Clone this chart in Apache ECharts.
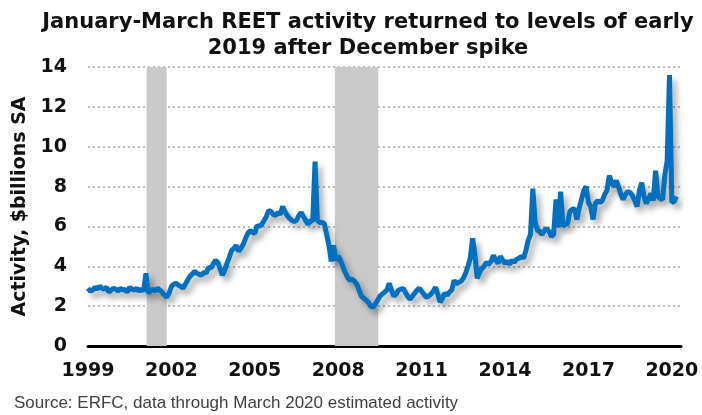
<!DOCTYPE html>
<html>
<head>
<meta charset="utf-8">
<script src="https://cdn.jsdelivr.net/npm/echarts@6/dist/echarts.min.js"></script>
<style>
  html, body { margin: 0; padding: 0; background: #fff; }
  #chart { width: 702px; height: 415px; }
</style>
</head>
<body>
<div id="chart"></div>
<script>
// monthly REET activity, $billions SA, Jan 1999 - Mar 2020
const startYear = 1999;
const activity = [
  2.9, 2.75, 2.8, 2.95, 2.85, 3.0, 2.9, 2.85, 2.95, 2.7, 2.8, 2.9,      // 1999
  2.85, 2.75, 2.9, 2.8, 2.85, 2.7, 2.95, 2.85, 2.8, 2.9, 2.75, 2.85,    // 2000
  2.75, 3.65, 2.65, 2.8, 2.85, 2.75, 2.9, 2.8, 2.7, 2.55, 2.45, 2.65,   // 2001
  2.98, 3.1, 3.15, 3.05, 3.0, 2.9, 3.1, 3.3, 3.5, 3.6, 3.75, 3.65,      // 2002
  3.6, 3.55, 3.7, 3.65, 3.95, 3.9, 4.1, 4.3, 4.2, 3.9, 3.55, 3.8,       // 2003
  4.15, 4.45, 4.8, 4.9, 5.05, 4.75, 4.9, 5.1, 5.4, 5.65, 5.8, 5.7,      // 2004
  5.65, 6.05, 6.0, 6.1, 6.3, 6.5, 6.8, 6.75, 6.6, 6.55, 6.7, 6.6,       // 2005
  7.0, 6.75, 6.55, 6.4, 6.3, 6.25, 6.3, 6.55, 6.7, 6.5, 6.3, 6.1,       // 2006
  6.3, 6.25, 9.25, 6.3, 6.2, 6.2, 6.15, 5.6, 5.05, 4.25, 5.05, 4.3,     // 2007
  4.5, 4.3, 4.0, 3.7, 3.45, 3.3, 3.35, 3.25, 3.1, 2.8, 2.5, 2.4,        // 2008
  2.3, 2.2, 2.0, 1.95, 2.1, 2.3, 2.5, 2.6, 2.7, 2.8, 3.15, 2.8,         // 2009
  2.5, 2.6, 2.8, 2.85, 2.9, 2.7, 2.5, 2.35, 2.5, 2.65, 2.8, 2.9,        // 2010
  2.75, 2.6, 2.45, 2.5, 2.6, 2.75, 2.95, 2.6, 2.2, 2.4, 2.65, 2.55,     // 2011
  2.7, 2.8, 3.3, 3.1, 3.2, 3.25, 3.4, 3.65, 4.0, 4.4, 5.4, 4.6,         // 2012
  3.4, 3.7, 3.9, 4.0, 4.2, 4.1, 4.25, 4.55, 4.3, 4.15, 4.5, 4.3,        // 2013
  4.15, 4.25, 4.1, 4.3, 4.2, 4.35, 4.4, 4.5, 4.4, 4.8, 5.3, 5.6,        // 2014
  7.9, 6.2, 5.8, 5.75, 5.6, 5.8, 5.9, 5.75, 5.5, 5.6, 7.35, 5.95,       // 2015
  7.75, 6.0, 6.1, 6.15, 6.75, 6.85, 6.9, 6.35, 6.9, 7.35, 7.8, 8.0,     // 2016
  7.2, 7.0, 6.35, 7.15, 7.3, 7.2, 7.3, 7.6, 7.8, 8.55, 8.2, 8.0,        // 2017
  8.3, 8.0, 7.6, 7.35, 7.6, 7.75, 7.7, 7.55, 7.3, 7.0, 7.8, 8.2,        // 2018
  7.5, 7.15, 7.4, 7.65, 7.3, 8.8, 7.5, 7.4, 7.35, 8.6, 9.3, 13.6,       // 2019
  7.2, 7.25, 7.5                                                        // 2020
];
// recessions, in decimal years
const recessions = [[2001.11, 2001.83], [2007.88, 2009.44]];
const xMin = 1999;
const xMax = 2020.33;
const yTicks = [0, 2, 4, 6, 8, 10, 12, 14];

const points = activity.map((v, i) => [startYear + i / 12, v]);

const chart = echarts.init(document.getElementById('chart'));
const bold = { fontFamily: 'DejaVu Sans', fontWeight: 'bold', color: '#111' };

chart.setOption({
  animation: false,
  backgroundColor: '#fff',
  title: {
    text: 'January-March REET activity returned to levels of early\n2019 after December spike',
    left: 363,
    textAlign: 'center',
    top: 5,
    textStyle: Object.assign({ fontSize: 21, lineHeight: 26 }, bold)
  },
  graphic: [{
    type: 'text',
    left: 14,
    top: 395,
    style: {
      text: 'Source: ERFC, data through March 2020 estimated activity',
      font: '17px "Liberation Sans"',
      fill: '#404040'
    }
  }],
  grid: { left: 88, right: 21, top: 67, bottom: 69 },
  xAxis: {
    type: 'value',
    min: xMin,
    max: xMax,
    interval: 3,
    axisLine: { show: true, onZero: false, lineStyle: { color: '#000', width: 3 } },
    axisTick: { show: false },
    splitLine: { show: false },
    axisLabel: Object.assign({
      fontSize: 19,
      margin: 16,
      showMaxLabel: false,
      formatter: v => (Number.isInteger(v) ? String(v) : '')
    }, bold)
  },
  yAxis: {
    type: 'value',
    min: yTicks[0],
    max: yTicks[yTicks.length - 1],
    interval: 2,
    name: 'Activity, $billions SA',
    nameLocation: 'middle',
    nameGap: 50,
    nameTextStyle: Object.assign({ fontSize: 19 }, bold),
    axisLine: { show: false },
    axisTick: { show: false },
    axisLabel: Object.assign({ fontSize: 19, margin: 21 }, bold),
    splitLine: {
      show: true,
      lineStyle: { color: '#bdbdbd', width: 2, type: [2, 3] }
    }
  },
  series: [{
    type: 'line',
    data: points,
    showSymbol: false,
    lineStyle: {
      color: '#0070c0',
      width: 5,
      shadowColor: 'rgba(0,0,0,0.35)',
      shadowBlur: 6,
      shadowOffsetX: 4,
      shadowOffsetY: 5
    },
    z: 3,
    markArea: {
      silent: true,
      itemStyle: { color: '#c9c9c9' },
      data: recessions.map(r => [{ xAxis: r[0] }, { xAxis: r[1] }])
    }
  }]
});
</script>
</body>
</html>
